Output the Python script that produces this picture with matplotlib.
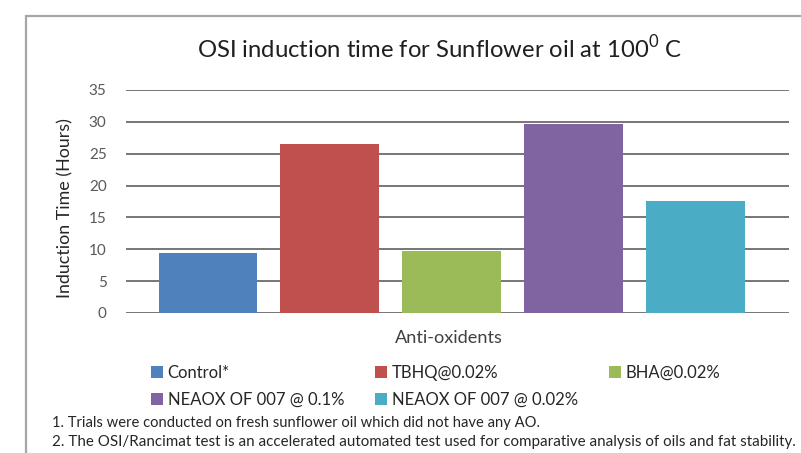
import matplotlib
matplotlib.use("Agg")
import matplotlib.pyplot as plt
from matplotlib.patches import Rectangle, Patch
import numpy as np

series = ["Control*", "TBHQ@0.02%", "BHA@0.02%", "NEAOX OF 007 @ 0.1%", "NEAOX OF 007 @ 0.02%"]
values = [9.4, 26.6, 9.8, 29.6, 17.5]
colors = ["#4F81BD", "#C0504D", "#9BBB59", "#8064A2", "#4BACC6"]
yticks = [0, 5, 10, 15, 20, 25, 30, 35]
title = "OSI induction time for Sunflower oil at 100$^{0}$ C"
ylabel = "Induction Time (Hours)"
xlabel = "Anti-oxidents"
notes = ["1. Trials were conducted on fresh sunflower oil which did not have any AO.",
         "2. The OSI/Rancimat test is an accelerated automated test used for comparative analysis of oils and fat stability."]

FONT = 'Lato'
plt.rcParams['font.family'] = [FONT, 'DejaVu Sans']
plt.rcParams['mathtext.fontset'] = 'custom'
plt.rcParams['mathtext.rm'] = FONT

W, H = 801, 453
fig = plt.figure(figsize=(W/100, H/100), dpi=100)
renderer = fig.canvas.get_renderer()

def fit(t, target_px, horizontal=True):
    bb = t.get_window_extent(renderer)
    cur = bb.width if horizontal else bb.height
    t.set_fontsize(t.get_fontsize() * target_px / cur)
    return t

# outer border
fig.add_artist(Rectangle((26/W, -0.1), 1.0, (H-16)/H + 0.1, transform=fig.transFigure,
                         fill=False, edgecolor="#a6a6a6", linewidth=1.6))

ax = fig.add_axes([126/W, 1-313/H, (789-126)/W, (313-90)/H])
x = np.arange(len(series))
ax.bar(x, values, width=0.81, color=colors, zorder=3, edgecolor='none')
ax.set_xlim(-0.673, 4.770)
ax.set_ylim(0, 35)
ax.set_yticks(yticks)
ax.set_yticklabels([str(v) for v in yticks], color="#595959", fontsize=11)
ax.set_xticks([])
ax.tick_params(axis='y', length=0, pad=14)
ax.yaxis.grid(True, color="#6b6b6b", linewidth=1.3, zorder=0)
ax.set_axisbelow(True)
for s in ax.spines.values():
    s.set_visible(False)

fit(fig.text(440/W, 1-48/H, title, ha='center', va='center', fontsize=19, color="#1f1f1f"), 485)
fit(fig.text(65/W, 1-208/H, ylabel, rotation=90, ha='center', va='center', fontsize=12, color="#262626"), 180, False)
fit(fig.text(449/W, 1-338/H, xlabel, ha='center', va='center', fontsize=11.5, color="#404040"), 108)

order = [0, 3, 1, 4, 2]
handles = [Patch(facecolor=colors[i], edgecolor='none') for i in order]
labels = [series[i] for i in order]
probe = fig.text(0, 0, series[3], fontsize=12)
fit(probe, 176)
lfs = probe.get_fontsize()
probe.remove()
fpx = lfs * 100 / 72
leg = fig.legend(handles, labels, ncol=3, loc='center left', bbox_to_anchor=(150.7/W, 1-386.2/H),
                 frameon=False, fontsize=lfs, handlelength=12/fpx, handleheight=12/fpx,
                 handletextpad=4.8/fpx, columnspacing=31/fpx, labelspacing=0.68, borderpad=0,
                 borderaxespad=0, labelcolor="#262626")

fit(fig.text(52/W, 1-423.5/H, notes[0], ha='left', va='center', fontsize=10.5, color="#262626"), 489)
fit(fig.text(52/W, 1-441.7/H, notes[1], ha='left', va='center', fontsize=10.5, color="#262626"), 747)

fig.savefig("out.png", dpi=100)
